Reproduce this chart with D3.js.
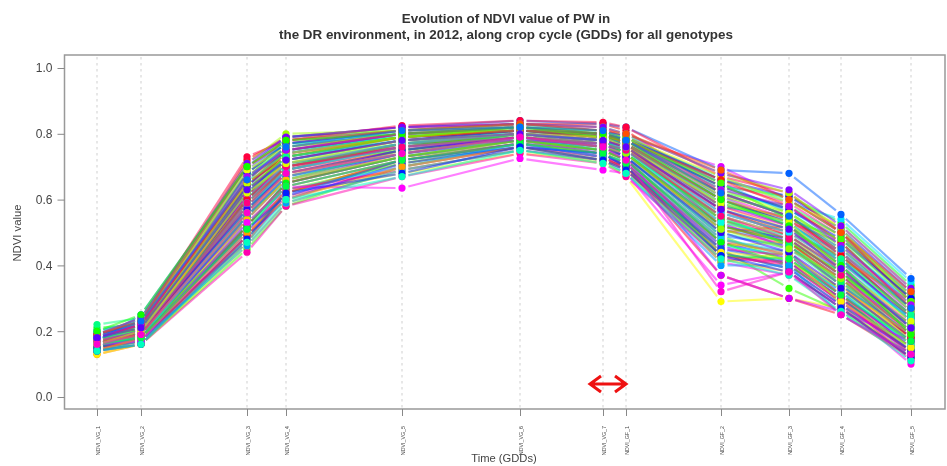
<!DOCTYPE html>
<html><head><meta charset="utf-8">
<script src="https://cdn.jsdelivr.net/npm/d3@7/dist/d3.min.js"></script>
<style>html,body{margin:0;padding:0;background:#fff}svg{display:block;filter:blur(.5px)}text{font-family:"Liberation Sans",Arial,sans-serif}</style>
</head><body><svg id="c" width="947" height="466"></svg>
<script>
const categories=["NDVI_VG_1","NDVI_VG_2","NDVI_VG_3","NDVI_VG_4","NDVI_VG_5","NDVI_VG_6","NDVI_VG_7","NDVI_GF_1","NDVI_GF_2","NDVI_GF_3","NDVI_GF_4","NDVI_GF_5"];
const gdds=[0,44,150,189,305,423,506,529,624,692,744,814];
const yTicks=[0,.2,.4,.6,.8,1];
const titleLines=["Evolution of NDVI value of PW in","the DR environment, in 2012, along crop cycle (GDDs) for all genotypes"];
const genotypes=[
[.17,.21,.72,.79,.82,.83,.83,.81,.62,.55,.44,.24],
[.15,.19,.61,.72,.78,.81,.79,.77,.52,.47,.36,.18],
[.18,.22,.66,.75,.80,.82,.80,.78,.66,.58,.47,.27],
[.14,.17,.52,.65,.74,.79,.76,.73,.43,.41,.30,.14],
[.16,.20,.58,.70,.76,.80,.78,.75,.57,.50,.40,.21],
[.19,.23,.70,.78,.81,.83,.81,.80,.69,.60,.50,.32],
[.13,.16,.47,.62,.72,.77,.74,.70,.47,.44,.31,.13],
[.17,.19,.63,.73,.79,.81,.80,.77,.60,.54,.42,.29],
[.15,.18,.55,.68,.75,.79,.77,.74,.50,.52,.38,.20],
[.16,.21,.60,.69,.77,.80,.78,.76,.54,.46,.34,.16],
[.14,.18,.50,.60,.70,.76,.72,.69,.42,.38,.27,.12],
[.18,.23,.68,.77,.81,.82,.81,.79,.64,.57,.49,.31],
[.15,.17,.54,.66,.73,.78,.75,.72,.48,.43,.33,.19],
[.17,.20,.64,.74,.79,.81,.79,.78,.58,.51,.41,.25],
[.16,.19,.57,.67,.76,.79,.77,.75,.55,.49,.37,.22],
[.13,.16,.46,.59,.69,.75,.71,.68,.44,.42,.29,.15],
[.15,.17,.49,.61,.68,.74,.72,.67,.29,.30,.27,.13],
[.18,.22,.69,.76,.80,.82,.80,.79,.67,.59,.52,.33],
[.16,.20,.62,.71,.78,.80,.79,.76,.59,.53,.39,.23],
[.14,.19,.53,.64,.72,.78,.75,.71,.46,.47,.35,.17],
[.17,.21,.65,.74,.79,.82,.81,.78,.63,.56,.45,.28],
[.15,.18,.59,.70,.77,.80,.78,.76,.53,.48,.32,.18],
[.19,.24,.71,.80,.81,.83,.82,.80,.68,.62,.51,.30],
[.16,.19,.56,.68,.74,.79,.76,.74,.51,.45,.36,.20],
[.14,.17,.48,.63,.71,.77,.74,.70,.41,.44,.28,.14],
[.17,.22,.67,.76,.80,.81,.80,.79,.61,.56,.46,.26],
[.16,.18,.60,.72,.78,.80,.77,.75,.56,.50,.43,.24],
[.15,.20,.55,.66,.75,.78,.76,.73,.49,.41,.33,.16],
[.18,.21,.63,.73,.79,.82,.79,.78,.65,.54,.48,.29],
[.14,.16,.45,.58,.70,.76,.73,.69,.45,.33,.26,.13],
[.17,.19,.58,.69,.76,.80,.78,.74,.52,.47,.38,.21],
[.20,.25,.70,.78,.80,.82,.80,.78,.60,.52,.40,.19],
[.16,.21,.61,.75,.79,.81,.79,.77,.58,.55,.44,.27],
[.15,.19,.52,.65,.73,.78,.75,.72,.47,.40,.30,.15],
[.21,.22,.66,.79,.81,.82,.81,.78,.64,.61,.53,.34],
[.18,.20,.59,.70,.77,.79,.77,.75,.54,.48,.37,.22],
[.16,.18,.51,.64,.72,.77,.74,.71,.43,.42,.31,.17],
[.19,.23,.64,.76,.80,.81,.80,.77,.62,.58,.49,.30],
[.17,.21,.56,.71,.75,.80,.78,.74,.55,.46,.35,.20],
[.15,.17,.49,.62,.71,.76,.72,.70,.44,.39,.28,.12],
[.22,.24,.68,.77,.79,.82,.79,.79,.66,.60,.50,.31],
[.18,.20,.60,.73,.78,.80,.78,.76,.57,.51,.42,.25],
[.16,.19,.54,.67,.74,.78,.76,.73,.50,.45,.34,.19],
[.17,.22,.62,.72,.77,.81,.79,.77,.59,.53,.41,.23],
[.14,.16,.47,.60,.67,.75,.71,.68,.42,.37,.26,.11],
[.20,.23,.65,.78,.81,.83,.80,.80,.63,.57,.47,.28],
[.16,.18,.57,.69,.76,.79,.77,.75,.53,.49,.39,.24],
[.19,.21,.63,.75,.79,.80,.80,.76,.61,.52,.44,.26],
[.15,.19,.50,.66,.73,.78,.74,.71,.46,.43,.32,.16],
[.17,.20,.59,.71,.77,.80,.78,.75,.56,.50,.40,.21],
[.18,.24,.69,.77,.80,.82,.81,.78,.67,.59,.54,.35],
[.16,.17,.53,.63,.70,.77,.73,.72,.48,.44,.29,.15],
[.15,.20,.58,.68,.75,.79,.77,.74,.51,.47,.36,.18],
[.19,.22,.67,.74,.80,.81,.80,.79,.65,.56,.46,.29],
[.14,.17,.46,.59,.69,.75,.72,.68,.40,.40,.25,.13],
[.17,.21,.61,.72,.78,.80,.79,.76,.58,.54,.43,.25],
[.16,.19,.55,.67,.74,.79,.75,.73,.49,.46,.34,.19],
[.18,.23,.66,.76,.81,.82,.81,.78,.62,.55,.45,.27],
[.17,.25,.70,.79,.82,.84,.83,.82,.69,.68,.555,.36],
[.15,.18,.51,.61,.72,.76,.74,.70,.45,.41,.30,.14],
[.17,.20,.60,.70,.76,.80,.78,.75,.55,.49,.38,.22],
[.19,.22,.64,.75,.80,.81,.79,.77,.60,.53,.42,.23],
[.14,.16,.48,.62,.68,.76,.72,.69,.43,.38,.27,.12],
[.16,.21,.56,.69,.77,.78,.77,.74,.52,.48,.37,.20],
[.18,.19,.62,.73,.78,.81,.80,.78,.64,.57,.48,.30],
[.15,.18,.52,.65,.73,.77,.75,.72,.47,.42,.31,.16],
[.17,.22,.68,.77,.81,.83,.81,.79,.66,.61,.51,.32],
[.16,.20,.57,.68,.75,.79,.76,.73,.50,.44,.33,.17],
[.20,.23,.65,.74,.79,.81,.79,.77,.59,.52,.41,.24],
[.15,.17,.49,.60,.71,.76,.74,.70,.44,.39,.28,.14],
[.18,.21,.63,.72,.78,.80,.78,.76,.57,.51,.39,.21],
[.16,.19,.54,.66,.74,.78,.75,.72,.48,.43,.32,.15],
[.19,.24,.71,.79,.82,.83,.82,.80,.68,.63,.52,.33],
[.17,.20,.60,.71,.76,.80,.77,.75,.54,.47,.35,.18],
[.14,.18,.50,.64,.72,.77,.73,.71,.46,.40,.29,.13],
[.18,.22,.67,.75,.80,.82,.80,.78,.63,.58,.46,.28],
[.16,.18,.55,.67,.75,.79,.76,.74,.53,.45,.36,.20],
[.15,.19,.58,.69,.76,.78,.77,.73,.37,.30,.26,.17],
[.19,.23,.69,.78,.81,.82,.81,.79,.70,.60,.50,.31],
[.17,.21,.61,.70,.77,.80,.78,.76,.56,.50,.42,.23],
[.16,.17,.53,.64,.635,.725,.69,.68,.34,.38,.27,.12],
[.15,.20,.47,.61,.70,.76,.73,.69,.41,.37,.28,.10],
[.18,.22,.66,.76,.80,.81,.80,.78,.61,.54,.44,.26],
[.16,.19,.56,.68,.74,.79,.76,.72,.32,.38,.25,.13],
[.17,.21,.62,.72,.78,.80,.79,.77,.58,.52,.40,.22],
[.14,.16,.44,.58,.67,.74,.71,.67,.42,.41,.30,.11],
[.19,.24,.70,.77,.81,.83,.82,.79,.65,.59,.49,.30],
[.16,.18,.52,.65,.73,.78,.74,.71,.45,.43,.31,.15],
[.17,.20,.59,.70,.76,.79,.77,.75,.55,.48,.37,.19],
[.18,.22,.64,.74,.79,.81,.80,.77,.60,.53,.47,.27],
[.15,.17,.49,.63,.69,.75,.72,.70,.43,.40,.29,.14],
[.16,.21,.57,.69,.75,.80,.78,.74,.51,.46,.34,.18],
[.19,.23,.73,.78,.825,.84,.835,.82,.67,.62,.50,.29],
[.17,.19,.60,.71,.77,.80,.78,.76,.57,.49,.39,.21],
[.15,.18,.51,.62,.72,.77,.73,.70,.37,.30,.25,.12],
[.18,.22,.65,.73,.79,.81,.79,.78,.62,.55,.43,.25]
];
const n=genotypes.length;
const frameLeft=64.5,frameRight=945,frameTop=55,frameBottom=409;
const x=d3.scaleLinear().domain([gdds[0],gdds[gdds.length-1]]).range([97,911]);
const y=d3.scaleLinear().domain([0,1]).range([397,68]);
const svg=d3.select("#c");
const gap=6.5;
// paint order is mixed so that no single hue ends up on top of every column
const paintOrder=d3.range(n).sort((a,b)=>(a*37)%n-(b*37)%n);
svg.append("g").selectAll("line").data(gdds).join("line")
 .attr("x1",d=>x(d)).attr("x2",d=>x(d)).attr("y1",frameTop+2).attr("y2",frameBottom)
 .attr("stroke","#cfcfcf").attr("stroke-width",1).attr("stroke-dasharray","2.5 3.5");
const col=i=>d3.hsl(360*i/n,1,.5).formatHex();
paintOrder.forEach(i=>{
 const g=svg.append("g"), c=col(i);
 d3.pairs(genotypes[i].map((v,j)=>[x(gdds[j]),y(v)])).forEach(([a,b])=>{
  const dx=b[0]-a[0],dy=b[1]-a[1],L=Math.hypot(dx,dy);
  if(L<=2*gap)return;
  const ux=dx/L,uy=dy/L;
  g.append("line").attr("x1",a[0]+ux*gap).attr("y1",a[1]+uy*gap).attr("x2",b[0]-ux*gap).attr("y2",b[1]-uy*gap)
   .attr("stroke",c).attr("stroke-width",2.2).attr("stroke-opacity",.5);
 });
});
paintOrder.forEach(i=>{
 svg.append("g").selectAll("circle").data(genotypes[i]).join("circle")
  .attr("cx",(d,j)=>x(gdds[j])).attr("cy",d=>y(d)).attr("r",3.6).attr("fill",col(i));
});
svg.append("rect").attr("x",frameLeft).attr("y",frameTop).attr("width",frameRight-frameLeft).attr("height",frameBottom-frameTop)
 .attr("fill","none").attr("stroke","#999").attr("stroke-width",1.5);
const ya=svg.append("g").attr("transform",`translate(${frameLeft},0)`)
 .call(d3.axisLeft(y).tickValues(yTicks).tickSize(7).tickPadding(5).tickFormat(d3.format(".1f")));
ya.select(".domain").remove();
ya.selectAll("line").attr("stroke","#888");
ya.selectAll("text").attr("fill","#444").style("font-size","12px").style("font-family",'"Liberation Sans"');
const xa=svg.append("g").attr("transform",`translate(0,${frameBottom})`)
 .call(d3.axisBottom(x).tickValues(gdds).tickSize(7).tickFormat((d,i)=>categories[i]));
xa.select(".domain").remove();
xa.selectAll("line").attr("stroke","#888");
xa.selectAll("text").attr("fill","#444").attr("text-anchor","end").attr("dx",0).attr("dy",0)
 .attr("transform","translate(0,17) rotate(-90)").attr("x",0).attr("y",2)
 .style("font-size","5.3px").style("font-family",'"Liberation Sans"');
svg.append("g").selectAll("text").data(titleLines).join("text")
 .attr("x",506).attr("y",(d,i)=>23+i*16).attr("text-anchor","middle")
 .attr("font-weight","bold").attr("font-size","13.4px").attr("fill","#333").text(d=>d);
svg.append("text").attr("x",504).attr("y",462).attr("text-anchor","middle").attr("font-size","11.2px").attr("fill","#444").text("Time (GDDs)");
svg.append("text").attr("transform","translate(21,233) rotate(-90)").attr("text-anchor","middle").attr("font-size","11.3px").attr("fill","#444").text("NDVI value");
const ax0=x(gdds[6])-14,ax1=x(gdds[7])+1,ay=384;
svg.append("path").attr("d",`M${ax0+12},${ay-8}L${ax0+1},${ay}L${ax0+12},${ay+8}M${ax0+1},${ay}H${ax1-1}M${ax1-12},${ay-8}L${ax1-1},${ay}L${ax1-12},${ay+8}`)
 .attr("fill","none").attr("stroke","#ee1111").attr("stroke-width",3);
</script></body></html>
